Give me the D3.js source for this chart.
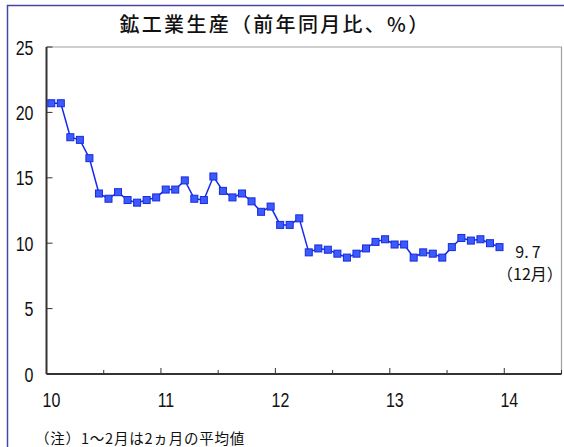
<!DOCTYPE html>
<html>
<head>
<meta charset="utf-8">
<script src="https://cdn.jsdelivr.net/npm/d3@7"></script>
<style>
  body { margin: 0; background: #fff; }
  svg { display: block; }
  .num { font-family: "Liberation Sans", Arial, sans-serif; font-size: 20.5px; fill: #111; }
  .jp { font-family: "Noto Sans CJK JP", sans-serif; fill: #111; }
</style>
</head>
<body>
<div id="chart"></div>
<script>
// 中国 鉱工業生産 前年同月比 (1~2月は2ヵ月平均なので同じ値が2つ)
const years = [2010, 2011, 2012, 2013];
const values2010 = [20.7, 20.7, 18.1, 17.9, 16.5, 13.8, 13.4, 13.9, 13.3, 13.1, 13.3, 13.5];
const values2011 = [14.1, 14.1, 14.8, 13.4, 13.3, 15.1, 14.0, 13.5, 13.8, 13.2, 12.4, 12.8];
const values2012 = [11.4, 11.4, 11.9, 9.3, 9.6, 9.5, 9.2, 8.9, 9.2, 9.6, 10.1, 10.3];
const values2013 = [9.9, 9.9, 8.9, 9.3, 9.2, 8.9, 9.7, 10.4, 10.2, 10.3, 10.0, 9.7];
const yearTicks = [10, 11, 12, 13, 14];
const yTicks = [0, 5, 10, 15, 20, 25];

const width = 564;
const height = 447;
const narrow = 0.78; // 数字は縦長フォント風に

const series = [values2010, values2011, values2012, values2013];
const data = [];
series.forEach((vals, yi) => {
  vals.forEach((v, m) => {
    data.push({ t: (years[yi] - 2000) + (m + 0.5) / 12, v: v });
  });
});

const svg = d3.select('#chart').append('svg')
  .attr('width', width)
  .attr('height', height);

// outer frame
svg.append('rect')
  .attr('x', 7.5).attr('y', 5.5)
  .attr('width', 700).attr('height', 700)
  .attr('fill', 'none')
  .attr('stroke', '#4646a6')
  .attr('stroke-width', 1.5);

const x = d3.scaleLinear().domain([10, 14.5]).range([46.5, 561.5]);
const y = d3.scaleLinear().domain([0, 25]).range([374, 47]);

// plot border (top/right grey)
svg.append('path')
  .attr('d', `M${x(10)},${y(25)}H${x(14.5)}V${y(0)}`)
  .attr('fill', 'none')
  .attr('stroke', '#a0a0a0')
  .attr('stroke-width', 1.2);

// x axis
const xAxis = svg.append('g').attr('transform', `translate(0,${y(0)})`);
xAxis.append('line')
  .attr('x1', x(10)).attr('x2', x(14.5))
  .attr('stroke', '#333').attr('stroke-width', 2);
const halfTicks = d3.range(10, 14.51, 0.5);
xAxis.selectAll('.xt').data(halfTicks).join('line')
  .attr('x1', d => x(d)).attr('x2', d => x(d))
  .attr('y1', 0).attr('y2', d => (d % 1 === 0 ? -6 : -4))
  .attr('stroke', '#333').attr('stroke-width', 1);
xAxis.selectAll('.xl').data(yearTicks).join('text')
  .attr('class', 'num')
  .attr('transform', d => `translate(${x(d) + 5},33) scale(${narrow},1)`)
  .attr('text-anchor', 'middle')
  .text(d => d);

// y axis
const yAxis = svg.append('g').attr('transform', `translate(${x(10)},0)`);
yAxis.append('line')
  .attr('y1', y(0)).attr('y2', y(25))
  .attr('stroke', '#333').attr('stroke-width', 2);
yAxis.selectAll('.yt').data(yTicks).join('line')
  .attr('x1', 0).attr('x2', 6)
  .attr('y1', d => y(d)).attr('y2', d => y(d))
  .attr('stroke', '#333').attr('stroke-width', 1);
yAxis.selectAll('.yl').data(yTicks).join('text')
  .attr('class', 'num')
  .attr('transform', d => `translate(-13,${y(d) + 7.5}) scale(${narrow},1)`)
  .attr('text-anchor', 'end')
  .text(d => d);

// line
const line = d3.line().x(d => x(d.t)).y(d => y(d.v));
svg.append('path')
  .datum(data)
  .attr('d', line)
  .attr('fill', 'none')
  .attr('stroke', '#1428f0')
  .attr('stroke-width', 1.5);

svg.selectAll('.pt').data(data).join('rect')
  .attr('x', d => x(d.t) - 3.5)
  .attr('y', d => y(d.v) - 3.5)
  .attr('width', 7).attr('height', 7)
  .attr('fill', '#3a5cff')
  .attr('stroke', '#1a2ad8')
  .attr('stroke-width', 1);

// last value label
const last = data[data.length - 1];
svg.append('text')
  .attr('class', 'jp')
  .attr('x', 528).attr('y', y(last.v) + 11)
  .attr('text-anchor', 'middle')
  .attr('font-size', 16)
  .text('9.\u20097');
svg.append('text')
  .attr('class', 'jp')
  .attr('x', 530).attr('y', y(last.v) + 33)
  .attr('text-anchor', 'middle')
  .attr('font-size', 16)
  .text('（12月）');

// title
svg.append('text')
  .attr('class', 'jp')
  .attr('x', 275).attr('y', 32)
  .attr('text-anchor', 'middle')
  .attr('font-size', 20)
  .attr('font-weight', 500)
  .attr('letter-spacing', 2.3)
  .text('鉱工業生産（前年同月比、%）');

// footnote
svg.append('text')
  .attr('class', 'jp')
  .attr('x', 35).attr('y', 444)
  .attr('font-size', 14.5)
  .attr('letter-spacing', 0.8)
  .text('（注）1～2月は2ヵ月の平均値');
</script>
</body>
</html>
